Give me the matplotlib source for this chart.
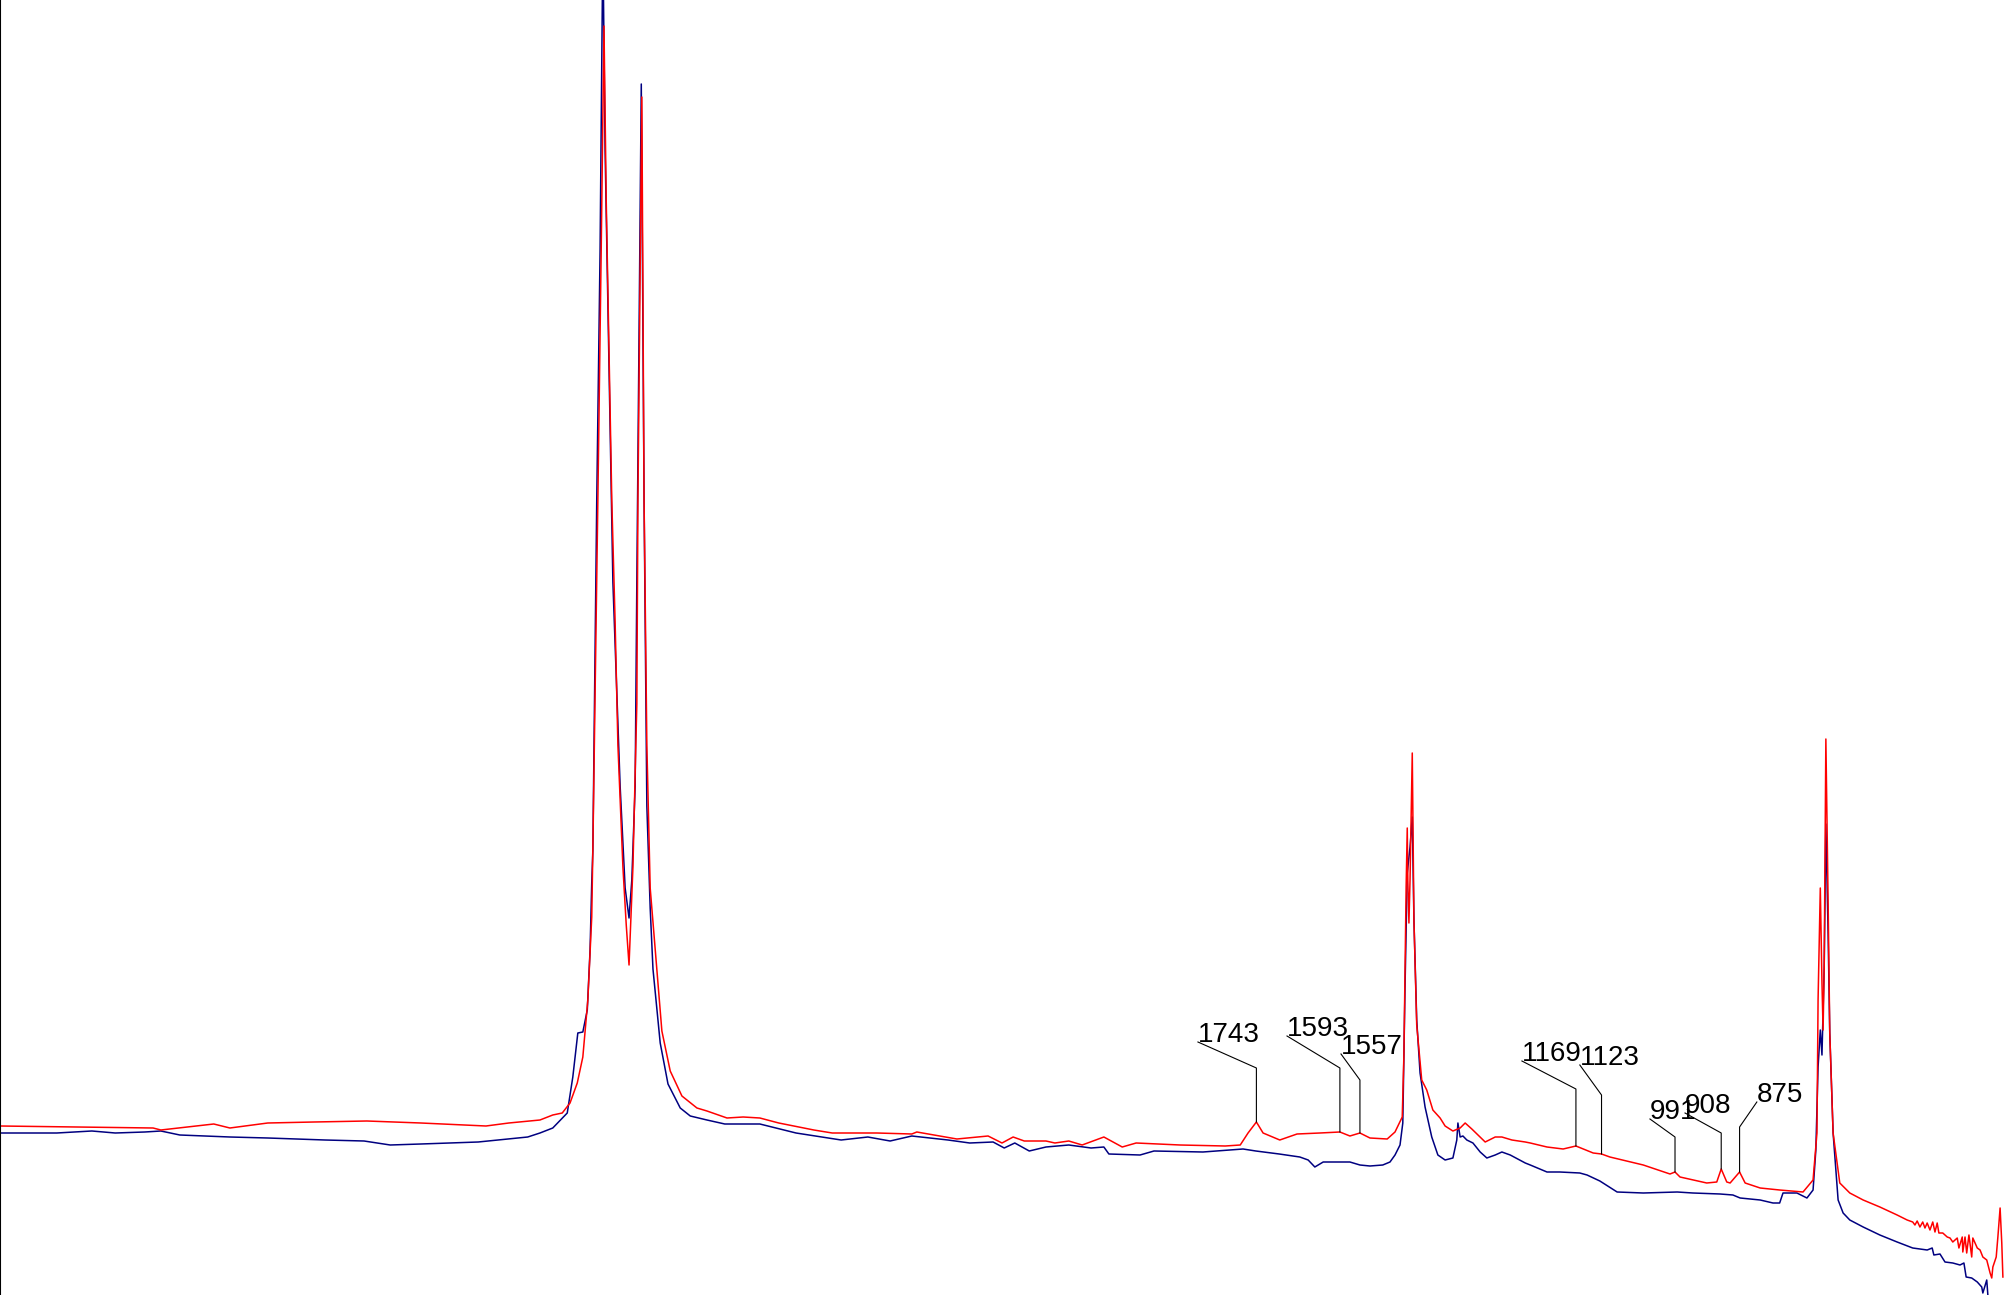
# IR spectra overlay with labelled peaks

import numpy as np
from matplotlib import pyplot as plt

# red spectrum (wavenumber cm-1, absorbance)
red_wn = [4000, 3862, 3725, 3711, 3616, 3587, 3519, 3436, 3341, 3244, 3127, 3086, 3030, 3007, 2990,
          2976, 2963, 2953, 2944, 2937, 2935, 2926, 2920, 2915, 2911, 2901, 2895, 2890, 2881, 2875,
          2870, 2863, 2856, 2854, 2847, 2843, 2838, 2832, 2823, 2811, 2796, 2775, 2748, 2730, 2694,
          2665, 2635, 2601, 2538, 2505, 2425, 2362, 2353, 2281, 2225, 2200, 2180, 2160, 2121, 2105,
          2080, 2056, 2017, 1984, 1959, 1920, 1880, 1799, 1772, 1758, 1743, 1731, 1701, 1670, 1629,
          1593, 1575, 1557, 1539, 1508, 1494, 1481, 1478, 1474, 1472, 1471, 1469, 1467, 1463, 1460,
          1455, 1446, 1437, 1426, 1413, 1404, 1390, 1377, 1368, 1356, 1332, 1314, 1302, 1284, 1260,
          1251, 1221, 1192, 1169, 1138, 1123, 1108, 1048, 1000, 991, 982, 934, 916, 908, 898,
          892, 875, 865, 838, 803, 761, 743, 736, 734, 730, 727, 725, 723, 720, 716,
          713, 707, 695, 677, 653, 623, 592, 574, 564, 560, 556, 551, 546, 542, 538,
          533, 528, 524, 520, 517, 510, 502, 497, 492, 484, 481, 475, 474, 470, 467,
          463, 458, 456, 448, 443, 438, 431, 425, 422, 420, 414, 411, 407, 404, 402]
red_abs = [0.169, 0.168, 0.167, 0.165, 0.171, 0.167, 0.172, 0.173, 0.174, 0.172, 0.169, 0.172, 0.175, 0.180, 0.182,
           0.192, 0.212, 0.238, 0.295, 0.378, 0.445, 0.795, 1.045, 1.269, 1.095, 0.795, 0.673, 0.550, 0.428, 0.370,
           0.330, 0.428, 0.591, 0.795, 1.198, 0.795, 0.550, 0.407, 0.346, 0.264, 0.224, 0.199, 0.187, 0.184, 0.177,
           0.178, 0.177, 0.172, 0.165, 0.162, 0.162, 0.161, 0.163, 0.156, 0.159, 0.152, 0.158, 0.154, 0.154, 0.152,
           0.154, 0.150, 0.158, 0.148, 0.152, 0.151, 0.150, 0.149, 0.150, 0.162, 0.173, 0.162, 0.155, 0.161, 0.162,
           0.163, 0.159, 0.162, 0.157, 0.156, 0.163, 0.178, 0.240, 0.408, 0.467, 0.415, 0.372, 0.415, 0.542, 0.375,
           0.270, 0.215, 0.205, 0.185, 0.177, 0.169, 0.164, 0.167, 0.172, 0.166, 0.153, 0.158, 0.158, 0.155, 0.153,
           0.152, 0.148, 0.146, 0.149, 0.142, 0.141, 0.138, 0.130, 0.121, 0.123, 0.118, 0.112, 0.113, 0.126, 0.113,
           0.112, 0.123, 0.112, 0.107, 0.105, 0.103, 0.115, 0.162, 0.295, 0.407, 0.312, 0.265, 0.328, 0.556, 0.395,
           0.262, 0.162, 0.112, 0.102, 0.095, 0.088, 0.080, 0.075, 0.073, 0.070, 0.074, 0.068, 0.073, 0.067, 0.072,
           0.065, 0.073, 0.063, 0.072, 0.062, 0.062, 0.058, 0.057, 0.053, 0.057, 0.047, 0.058, 0.043, 0.058, 0.042,
           0.060, 0.038, 0.057, 0.047, 0.045, 0.038, 0.035, 0.022, 0.017, 0.028, 0.038, 0.058, 0.087, 0.052, 0.018]

# blue spectrum
blue_wn = [4000, 3898, 3835, 3793, 3740, 3711, 3677, 3587, 3519, 3416, 3346, 3299, 3244, 3141, 3052,
           3030, 3007, 2981, 2971, 2962, 2953, 2945, 2940, 2937, 2935, 2928, 2922, 2917, 2913, 2899,
           2886, 2877, 2870, 2865, 2859, 2856, 2848, 2843, 2838, 2832, 2827, 2814, 2800, 2778, 2760,
           2730, 2698, 2635, 2570, 2489, 2441, 2401, 2362, 2297, 2258, 2216, 2196, 2177, 2151, 2121,
           2080, 2040, 2017, 2008, 1952, 1927, 1839, 1767, 1744, 1702, 1665, 1650, 1638, 1623, 1593,
           1575, 1557, 1539, 1516, 1503, 1494, 1485, 1480, 1476, 1472, 1471, 1467, 1463, 1460, 1455,
           1449, 1440, 1428, 1417, 1404, 1390, 1383, 1381, 1377, 1372, 1365, 1354, 1341, 1329, 1314,
           1302, 1287, 1260, 1251, 1221, 1198, 1162, 1149, 1126, 1095, 1048, 987, 959, 910, 887,
           874, 838, 815, 803, 797, 772, 754, 743, 738, 734, 730, 727, 723, 720, 716,
           713, 707, 698, 689, 677, 653, 623, 592, 564, 538, 529, 526, 515, 506, 492,
           479, 472, 468, 458, 448, 440, 438, 431, 429, 415, 400]
blue_abs = [0.162, 0.162, 0.164, 0.162, 0.163, 0.164, 0.160, 0.158, 0.157, 0.155, 0.154, 0.150, 0.151, 0.153, 0.158,
            0.162, 0.167, 0.182, 0.218, 0.262, 0.263, 0.285, 0.345, 0.412, 0.445, 0.795, 1.045, 1.355, 1.145, 0.713,
            0.509, 0.407, 0.377, 0.415, 0.509, 0.713, 1.211, 0.795, 0.489, 0.387, 0.326, 0.252, 0.211, 0.187, 0.179,
            0.175, 0.171, 0.171, 0.162, 0.155, 0.158, 0.154, 0.159, 0.155, 0.152, 0.153, 0.147, 0.152, 0.144, 0.148,
            0.150, 0.147, 0.148, 0.141, 0.140, 0.144, 0.143, 0.146, 0.144, 0.141, 0.138, 0.135, 0.128, 0.133, 0.133,
            0.133, 0.130, 0.129, 0.130, 0.133, 0.140, 0.150, 0.172, 0.308, 0.422, 0.427, 0.448, 0.478, 0.375, 0.275,
            0.222, 0.188, 0.158, 0.140, 0.135, 0.137, 0.155, 0.172, 0.158, 0.159, 0.155, 0.152, 0.143, 0.137, 0.140,
            0.143, 0.140, 0.132, 0.130, 0.123, 0.123, 0.122, 0.120, 0.114, 0.103, 0.102, 0.103, 0.102, 0.101, 0.100,
            0.097, 0.095, 0.092, 0.092, 0.102, 0.102, 0.097, 0.105, 0.145, 0.228, 0.265, 0.240, 0.328, 0.471, 0.362,
            0.262, 0.162, 0.095, 0.082, 0.075, 0.068, 0.060, 0.053, 0.047, 0.045, 0.047, 0.040, 0.041, 0.033, 0.032,
            0.030, 0.032, 0.018, 0.017, 0.013, 0.008, 0.002, 0.015, 0.000, -0.020, -0.030]

# labelled peaks and where their labels sit
peak_labels = [1743, 1593, 1557, 1169, 1123, 991, 908, 875]
label_wn = [1848, 1688, 1591, 1266, 1162, 1036, 973, 844]
label_abs = [0.253, 0.259, 0.241, 0.234, 0.230, 0.176, 0.182, 0.193]
elbow_abs = [0.227, 0.227, 0.215, 0.206, 0.200, 0.158, 0.162, 0.168]

fig = plt.figure(figsize=(20.04, 12.95), dpi=100)
ax = fig.add_axes([0, 0, 1, 1])

ax.plot(blue_wn, blue_abs, color='#000080', lw=1.1)
ax.plot(red_wn, red_abs, color='#ff0000', lw=1.1)

# leader lines go down to the top of the red peak
for p, lx, ly, ey in zip(peak_labels, label_wn, label_abs, elbow_abs):
    top = np.interp(p, red_wn[::-1], red_abs[::-1])
    ax.plot([lx, p, p], [ly, ey, top], color='black', lw=0.8)
    ax.text(lx, ly, str(p), ha='left', va='baseline', fontsize=20, family='Liberation Sans')

ax.set_xlim(4000, 400)
ax.set_ylim(0, 1.295)
ax.set_xticks([])
ax.set_yticks([])
for s in ['top', 'right', 'bottom']:
    ax.spines[s].set_visible(False)
ax.spines['left'].set_linewidth(1.5)

plt.savefig('out.png', dpi=100)
